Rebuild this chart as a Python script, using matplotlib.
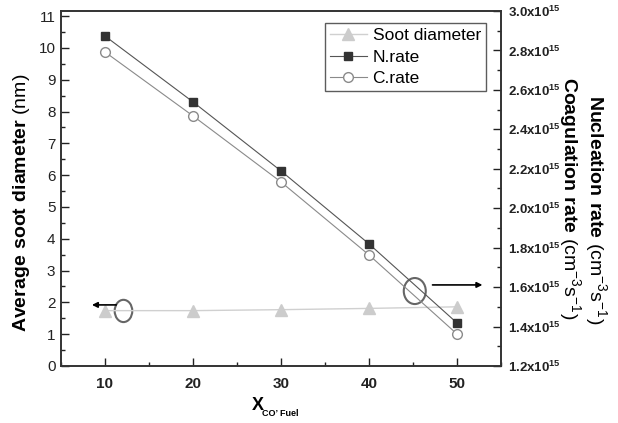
import matplotlib
matplotlib.use('Agg')
import matplotlib.pyplot as plt
import numpy as np
from matplotlib.patches import Ellipse
from matplotlib.ticker import MultipleLocator, FuncFormatter

plt.rcParams['font.family'] = ['Liberation Sans', 'DejaVu Sans']
plt.rcParams['mathtext.fontset'] = 'custom'
plt.rcParams['mathtext.rm'] = 'Liberation Sans'
plt.rcParams['mathtext.bf'] = 'Liberation Sans:bold'

# data
x_co2 = [10, 20, 30, 40, 50]
soot_diameter = [1.74, 1.74, 1.77, 1.81, 1.86]
n_rate = [2.873e15, 2.539e15, 2.189e15, 1.819e15, 1.418e15]
c_rate = [2.792e15, 2.468e15, 2.133e15, 1.763e15, 1.362e15]

fig = plt.figure(figsize=(6.18, 4.23), dpi=100)
ax = fig.add_axes([0.0987, 0.1348, 0.712, 0.8392])
ax2 = ax.twinx()

l1, = ax.plot(x_co2, soot_diameter, color='#d0d0d0', lw=1, marker='^',
              ms=8, mfc='#cccccc', mec='#cccccc', label='Soot diameter')
l2, = ax2.plot(x_co2, n_rate, color='#555555', lw=0.8, marker='s',
               ms=6, mfc='#333333', mec='#333333', label='N.rate')
l3, = ax2.plot(x_co2, c_rate, color='#8a8a8a', lw=0.8, marker='o',
               ms=7, mfc='white', mec='#8a8a8a', label='C.rate')

ax.set_xlim(5, 55)
ax.set_ylim(0, 11.16)
ax2.set_ylim(1.2e15, 3.0e15)

ax.xaxis.set_major_locator(MultipleLocator(10))
ax.xaxis.set_minor_locator(MultipleLocator(5))
ax.yaxis.set_major_locator(MultipleLocator(1))
ax.yaxis.set_minor_locator(MultipleLocator(0.5))
ax2.yaxis.set_major_locator(MultipleLocator(0.2e15))
ax2.yaxis.set_minor_locator(MultipleLocator(0.1e15))
ax2.yaxis.set_major_formatter(
    FuncFormatter(lambda v, p: r'$\mathbf{%.1fx10}^{\mathbf{15}}$' % (v / 1e15)))

for a in (ax, ax2):
    a.tick_params(which='major', direction='in', length=6, width=1, colors='#222222')
    a.tick_params(which='minor', direction='in', length=3, width=1, colors='#222222')
    for s in a.spines.values():
        s.set_color('#333333')
        s.set_linewidth(1.2)
ax.tick_params(axis='y', labelsize=11, pad=4)
ax.tick_params(axis='x', labelsize=11, pad=8)
for t in ax.get_xticklabels():
    t.set_fontweight('bold')
ax2.tick_params(axis='y', labelsize=9.5, pad=5)

# axis titles placed as figure texts
fig.text(22 / 618, 1 - 203 / 423, r'$\mathbf{Average\ soot\ diameter}$ (nm)',
         rotation=90, fontsize=14, ha='center', va='center')

fig.text(252 / 618, 1 - 405 / 423, 'X', fontsize=13, fontweight='bold',
         ha='left', va='center')
fig.text(262 / 618, 1 - 413 / 423, 'CO\u2019 Fuel', fontsize=6.5, fontweight='bold',
         ha='left', va='center')

fig.text(595 / 618, 1 - 210 / 423, r'$\mathbf{Nucleation\ rate}$ (cm$^{-3}$s$^{-1}$)',
         rotation=270, fontsize=14, ha='center', va='center')
fig.text(569 / 618, 1 - 198 / 423, r'$\mathbf{Coagulation\ rate}$ (cm$^{-3}$s$^{-1}$)',
         rotation=270, fontsize=14, ha='center', va='center')

leg = ax.legend(handles=[l1, l2, l3], loc='upper right', fontsize=12.5,
                bbox_to_anchor=(0.966, 0.966), borderaxespad=0,
                frameon=True, fancybox=False, edgecolor='#333333',
                handlelength=2.1, borderpad=0.3, labelspacing=0.35,
                handletextpad=0.35)
leg.get_frame().set_linewidth(1)

# annotation circles and arrows
ax.add_patch(Ellipse((12.1, 1.73), 2.0, 0.7, fill=False, ec='#666666', lw=1.5))
ax.annotate('', xy=(8.2, 1.92), xytext=(11.6, 1.92),
            arrowprops=dict(arrowstyle='-|>', color='black', lw=1.2, mutation_scale=8))
ax2.add_patch(Ellipse((45.2, 1.58e15), 2.5, 0.132e15, fill=False, ec='#666666', lw=1.5))
ax2.annotate('', xy=(53.2, 1.611e15), xytext=(46.9, 1.611e15),
             arrowprops=dict(arrowstyle='-|>', color='black', lw=1.2, mutation_scale=8))

fig.savefig('out.png', dpi=100)
